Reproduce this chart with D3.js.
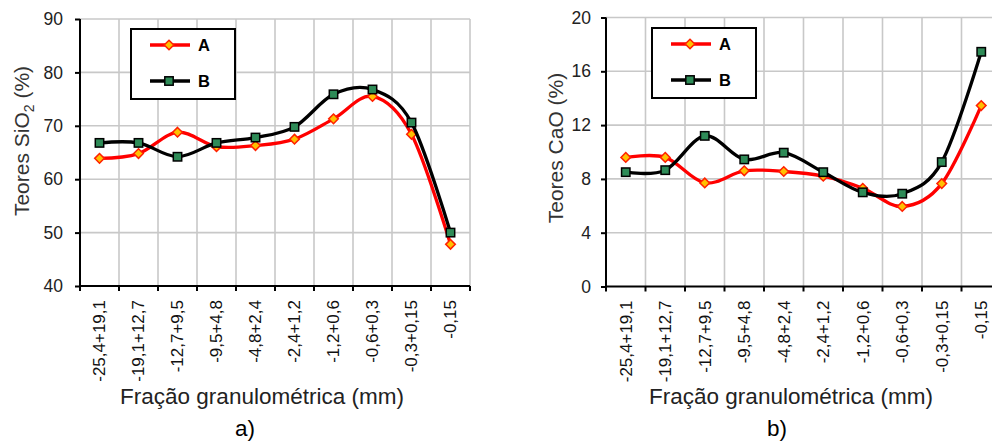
<!DOCTYPE html>
<html><head><meta charset="utf-8">
<script src="https://cdn.jsdelivr.net/npm/d3@7"></script>
<style>
html,body{margin:0;padding:0;background:#fff;}
svg{display:block;font-family:"Liberation Sans",Arial,sans-serif;}
</style></head>
<body>
<svg id="c" width="992" height="445"></svg>
<script>
const categories = ["-25,4+19,1","-19,1+12,7","-12,7+9,5","-9,5+4,8","-4,8+2,4","-2,4+1,2","-1,2+0,6","-0,6+0,3","-0,3+0,15","-0,15"];
const sio2A = [63.9, 64.8, 68.8, 66.1, 66.3, 67.5, 71.3, 75.5, 68.4, 47.8];
const sio2B = [66.8, 66.8, 64.2, 66.8, 67.8, 69.8, 75.9, 76.8, 70.6, 50.0];
const caoA = [9.6, 9.6, 7.7, 8.6, 8.55, 8.2, 7.3, 5.95, 7.65, 13.45];
const caoB = [8.5, 8.65, 11.2, 9.45, 9.95, 8.5, 7.0, 6.9, 9.25, 17.45];
const sio2Ticks = [40, 50, 60, 70, 80, 90];
const caoTicks = [0, 4, 8, 12, 16, 20];
const seriesNames = ["A", "B"];
const xTitle = "Fração granulométrica (mm)";

const svg = d3.select("#c");
const FONT = '"Liberation Sans",Arial,sans-serif';

function drawPanel(cfg) {
  const g = svg.append("g");
  const x = d3.scaleBand().domain(categories).range([cfg.left, cfg.left + cfg.width]).padding(0);
  const y = d3.scaleLinear().domain([cfg.ticks[0], cfg.ticks[cfg.ticks.length - 1]]).range([cfg.bottom, cfg.top]);

  // grid
  const edges = categories.map(c => x(c)).concat([cfg.left + cfg.width]);
  g.append("g").selectAll("line").data(edges.slice(1)).join("line")
    .attr("x1", d => d).attr("x2", d => d).attr("y1", cfg.top).attr("y2", cfg.bottom)
    .attr("stroke", "#c8c8c8").attr("stroke-width", 1.6);
  g.append("g").selectAll("line").data(cfg.ticks.slice(1)).join("line")
    .attr("x1", cfg.left).attr("x2", cfg.left + cfg.width).attr("y1", d => y(d)).attr("y2", d => y(d))
    .attr("stroke", "#c8c8c8").attr("stroke-width", 1.6);

  // axes
  const yAxis = d3.axisLeft(y).tickValues(cfg.ticks).tickSize(5).tickPadding(cfg.tickPad).tickFormat(d3.format("d"));
  const ya = g.append("g").attr("transform", `translate(${cfg.left},0)`).call(yAxis);
  ya.select(".domain").attr("stroke", "#000").attr("stroke-width", 2).attr("d", `M0,${cfg.top}V${cfg.bottom}`);
  ya.selectAll(".tick line").attr("stroke", "#000").attr("stroke-width", 2);
  ya.selectAll(".tick text").attr("font-size", 17.5).attr("font-family", FONT).attr("fill", "#222");

  const xa = g.append("g");
  xa.append("line").attr("x1", cfg.left).attr("x2", cfg.left + cfg.width).attr("y1", cfg.bottom).attr("y2", cfg.bottom)
    .attr("stroke", "#000").attr("stroke-width", 2);
  xa.selectAll("line.t").data(edges).join("line").attr("class", "t")
    .attr("x1", d => d).attr("x2", d => d).attr("y1", cfg.bottom).attr("y2", cfg.bottom + 5)
    .attr("stroke", "#000").attr("stroke-width", 2);
  xa.selectAll("text").data(categories).join("text")
    .attr("transform", d => `translate(${x(d) + x.bandwidth() / 2},${cfg.bottom + 14}) rotate(-90)`)
    .attr("text-anchor", "end").attr("dy", "0.35em")
    .attr("font-size", 17).attr("fill", "#111").text(d => d);

  // series
  const line = d3.line().x((d, i) => x(categories[i]) + x.bandwidth() / 2).y(d => y(d))
    .curve(d3.curveCardinal.tension(0));
  const series = [
    {name: seriesNames[0], values: cfg.a, color: "#ff0000", marker: "diamond"},
    {name: seriesNames[1], values: cfg.b, color: "#000000", marker: "square"}
  ];
  series.forEach(s => {
    g.append("path").attr("d", line(s.values)).attr("fill", "none")
      .attr("stroke", s.color).attr("stroke-width", 3.3).attr("stroke-linejoin", "round");
    const pts = g.append("g");
    s.values.forEach((v, i) => {
      const cx = x(categories[i]) + x.bandwidth() / 2, cy = y(v);
      drawMarker(pts, s.marker, cx, cy);
    });
  });

  // legend
  const lg = g.append("g");
  lg.append("rect").attr("x", cfg.legX).attr("y", cfg.legY).attr("width", 104).attr("height", 70)
    .attr("fill", "#fff").attr("stroke", "#000").attr("stroke-width", 2);
  series.forEach((s, i) => {
    const ly = cfg.legY + 16 + i * 36;
    lg.append("line").attr("x1", cfg.legX + 19).attr("x2", cfg.legX + 59).attr("y1", ly).attr("y2", ly)
      .attr("stroke", s.color).attr("stroke-width", 3.3);
    drawMarker(lg, s.marker, cfg.legX + 38, ly);
    lg.append("text").attr("x", cfg.legX + 67).attr("y", ly).attr("dy", "0.36em")
      .attr("font-size", 16.5).attr("font-weight", "bold").attr("fill", "#000").text(s.name);
  });

  // titles
  const yt = g.append("text")
    .attr("transform", `translate(${cfg.yTitleX},${cfg.yTitleY}) rotate(-90)`)
    .attr("text-anchor", "middle").attr("font-size", 21).attr("fill", "#333");
  cfg.yTitle(yt);
  g.append("text").attr("x", cfg.xTitleX).attr("y", 404).attr("text-anchor", "middle")
    .attr("font-size", 22.5).attr("fill", "#222").text(xTitle);
  g.append("text").attr("x", cfg.labelX).attr("y", 436).attr("text-anchor", "middle")
    .attr("font-size", 22.5).attr("fill", "#000").text(cfg.label);
}

function drawMarker(sel, type, cx, cy) {
  if (type === "diamond") {
    const r = 4.8;
    sel.append("path").attr("d", `M${cx},${cy - r}L${cx + r},${cy}L${cx},${cy + r}L${cx - r},${cy}Z`)
      .attr("fill", "#ffc000").attr("stroke", "#ff2000").attr("stroke-width", 1.5);
  } else {
    const h = 4.2;
    sel.append("rect").attr("x", cx - h).attr("y", cy - h).attr("width", 2 * h).attr("height", 2 * h)
      .attr("fill", "#2e8b57").attr("stroke", "#000").attr("stroke-width", 1.5);
  }
}

drawPanel({
  left: 80, width: 390, top: 19, bottom: 286, ticks: sio2Ticks, a: sio2A, b: sio2B, tickPad: 12,
  legX: 131, legY: 29, yTitleX: 29, yTitleY: 141, xTitleX: 262, labelX: 245, label: "a)",
  yTitle: t => { t.append("tspan").text("Teores SiO"); t.append("tspan").attr("font-size", 14).attr("dy", 5).text("2"); t.append("tspan").attr("dy", -5).text(" (%)"); }
});
drawPanel({
  left: 606, width: 395, top: 17.5, bottom: 286.5, ticks: caoTicks, a: caoA, b: caoB, tickPad: 10,
  legX: 652, legY: 28, yTitleX: 563, yTitleY: 148, xTitleX: 791, labelX: 777, label: "b)",
  yTitle: t => { t.text("Teores CaO (%)"); }
});
</script>
</body></html>
